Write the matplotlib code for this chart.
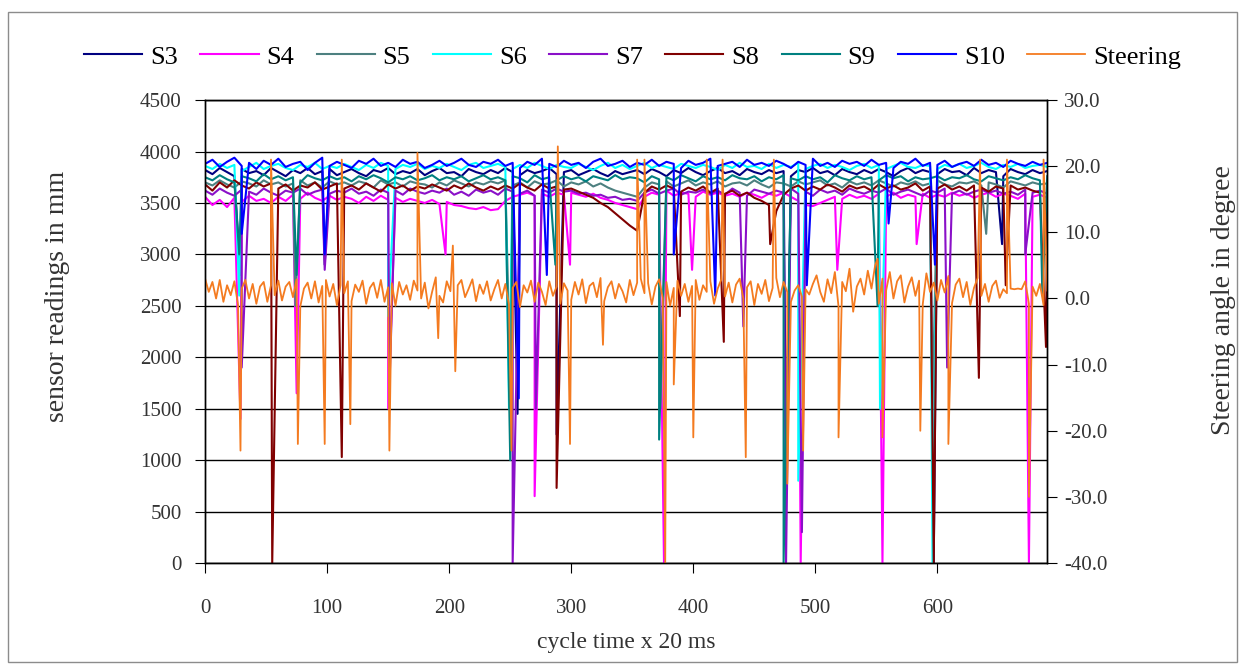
import numpy as np
import matplotlib
matplotlib.use("Agg")
from matplotlib import pyplot as plt
from matplotlib.patches import Rectangle

plt.rcParams["font.family"] = ["Liberation Serif", "DejaVu Serif"]

# sensor baselines, one value every 6 cycles (0..690)
s3_base = [3820, 3780, 3840, 3800, 3760, 3830, 3790, 3810, 3770, 3840,
           3800, 3760, 3820, 3790, 3840, 3780, 3810, 3830, 3770, 3800,
           3830, 3790, 3760, 3820, 3800, 3840, 3780, 3810, 3790, 3830,
           3770, 3810, 3840, 3790, 3800, 3760, 3830, 3800, 3780, 3820,
           3790, 3840, 3800, 3770, 3820, 3790, 3810, 3840, 3780, 3800,
           3820, 3770, 3800, 3830, 3790, 3760, 3810, 3780, 3800, 3820,
           3780, 3830, 3800, 3760, 3820, 3790, 3840, 3800, 3770, 3810,
           3840, 3790, 3810, 3770, 3830, 3800, 3780, 3820, 3790, 3810,
           3760, 3820, 3800, 3840, 3790, 3810, 3770, 3830, 3800, 3780,
           3820, 3790, 3830, 3800, 3760, 3810, 3840, 3790, 3820, 3800,
           3780, 3830, 3800, 3810, 3770, 3840, 3790, 3820, 3800, 3760,
           3830, 3800, 3780, 3820, 3790, 3810]
s4_base = [3560, 3480, 3530, 3460, 3550, 3510, 3570, 3520, 3540, 3500,
           3560, 3520, 3580, 3540, 3600, 3550, 3520, 3570, 3530, 3560,
           3540, 3500, 3560, 3520, 3570, 3530, 3550, 3510, 3540, 3520,
           3500, 3530, 3490, 3510, 3480, 3470, 3450, 3440, 3460, 3430,
           3440, 3520, 3560, 3580, 3600, 3570, 3590, 3560, 3600, 3580,
           3600, 3580, 3560, 3590, 3550, 3530, 3500, 3480, 3460, 3440,
           3560, 3600, 3580, 3620, 3570, 3600, 3590, 3560, 3610, 3580,
           3600, 3570, 3590, 3560, 3600, 3580, 3550, 3590, 3570, 3600,
           3560, 3520, 3480, 3470, 3500, 3530, 3560, 3540, 3580, 3550,
           3570, 3540, 3590, 3560, 3600, 3550, 3580, 3560, 3590, 3550,
           3580, 3560, 3600, 3570, 3590, 3550, 3580, 3600, 3560, 3590,
           3570, 3540, 3590, 3560, 3580, 3550]
s5_base = [3700, 3670, 3720, 3680, 3650, 3710, 3690, 3660, 3720, 3680,
           3700, 3660, 3690, 3720, 3670, 3700, 3650, 3710, 3680, 3700,
           3670, 3710, 3690, 3650, 3720, 3680, 3700, 3660, 3710, 3690,
           3680, 3650, 3700, 3670, 3720, 3690, 3660, 3700, 3680, 3710,
           3690, 3720, 3670, 3700, 3650, 3710, 3680, 3690, 3720, 3660,
           3700, 3680, 3710, 3660, 3690, 3650, 3620, 3600, 3580, 3560,
           3650, 3700, 3680, 3710, 3660, 3690, 3720, 3670, 3700, 3680,
           3710, 3660, 3690, 3700, 3670, 3720, 3680, 3650, 3700, 3690,
           3660, 3710, 3680, 3700, 3720, 3670, 3690, 3650, 3710, 3680,
           3700, 3670, 3720, 3690, 3660, 3700, 3680, 3710, 3670, 3690,
           3720, 3680, 3660, 3700, 3690, 3710, 3670, 3700, 3680, 3650,
           3710, 3690, 3670, 3700, 3680, 3690]
s6_base = [3860, 3830, 3880, 3840, 3870, 3810, 3850, 3890, 3830, 3860,
           3880, 3840, 3820, 3870, 3850, 3890, 3830, 3860, 3840, 3880,
           3850, 3820, 3870, 3840, 3890, 3860, 3830, 3870, 3850, 3880,
           3830, 3860, 3840, 3880, 3850, 3820, 3870, 3890, 3840, 3860,
           3880, 3850, 3830, 3870, 3840, 3890, 3860, 3830, 3870, 3850,
           3840, 3880, 3850, 3820, 3860, 3890, 3840, 3870, 3830, 3860,
           3890, 3840, 3870, 3850, 3830, 3880, 3860, 3840, 3870, 3850,
           3820, 3870, 3840, 3890, 3850, 3860, 3830, 3880, 3840, 3870,
           3850, 3890, 3830, 3860, 3880, 3840, 3870, 3850, 3820, 3860,
           3880, 3840, 3870, 3830, 3860, 3890, 3850, 3840, 3870, 3860,
           3830, 3870, 3850, 3880, 3840, 3860, 3890, 3850, 3830, 3870,
           3850, 3880, 3840, 3860, 3870, 3850]
s7_base = [3620, 3580, 3640, 3600, 3570, 3630, 3610, 3580, 3640, 3600,
           3570, 3620, 3600, 3640, 3580, 3610, 3630, 3590, 3620, 3600,
           3640, 3590, 3610, 3570, 3630, 3600, 3620, 3580, 3640, 3610,
           3590, 3620, 3600, 3640, 3580, 3610, 3570, 3630, 3600, 3620,
           3580, 3640, 3610, 3590, 3620, 3570, 3630, 3600, 3640, 3610,
           3620, 3590, 3600, 3570, 3580, 3550, 3560, 3530, 3540, 3520,
           3600, 3630, 3590, 3620, 3640, 3580, 3610, 3600, 3630, 3590,
           3620, 3580, 3640, 3600, 3570, 3630, 3610, 3590, 3620, 3600,
           3640, 3590, 3610, 3570, 3630, 3600, 3620, 3580, 3640, 3610,
           3590, 3620, 3600, 3640, 3580, 3610, 3630, 3600, 3570, 3620,
           3600, 3640, 3590, 3620, 3580, 3610, 3630, 3600, 3620, 3590,
           3610, 3580, 3630, 3600, 3620, 3590]
s8_base = [3680, 3620, 3700, 3650, 3720, 3670, 3640, 3700, 3660, 3690,
           3640, 3680, 3620, 3670, 3650, 3700, 3630, 3660, 3690, 3640,
           3670, 3630, 3690, 3650, 3610, 3680, 3640, 3670, 3620, 3660,
           3640, 3680, 3650, 3620, 3670, 3640, 3690, 3650, 3620, 3660,
           3630, 3670, 3640, 3690, 3650, 3620, 3680, 3640, 3660, 3630,
           3640, 3610, 3580, 3550, 3500, 3460, 3400, 3340, 3280, 3230,
           3600, 3660, 3630, 3670, 3640, 3610, 3650, 3620, 3660, 3600,
           3640, 3590, 3620, 3570, 3600, 3550, 3520, 3480, 3420, 3580,
           3640, 3670, 3620, 3660, 3630, 3680, 3650, 3610, 3670, 3640,
           3660, 3620, 3680, 3640, 3670, 3630, 3650, 3690, 3620, 3660,
           3640, 3680, 3630, 3660, 3620, 3670, 3650, 3610, 3660, 3640,
           3670, 3630, 3650, 3620, 3600, 3560]
s9_base = [3750, 3720, 3770, 3730, 3700, 3760, 3740, 3710, 3780, 3730,
           3760, 3720, 3750, 3700, 3770, 3740, 3720, 3760, 3730, 3750,
           3710, 3760, 3730, 3770, 3740, 3700, 3750, 3730, 3760, 3720,
           3740, 3770, 3720, 3750, 3730, 3760, 3710, 3740, 3770, 3730,
           3750, 3720, 3760, 3740, 3700, 3770, 3730, 3750, 3720, 3760,
           3730, 3750, 3710, 3760, 3740, 3720, 3770, 3730, 3750, 3740,
           3700, 3760, 3730, 3750, 3720, 3770, 3740, 3710, 3760, 3730,
           3750, 3720, 3770, 3740, 3730, 3760, 3710, 3750, 3730, 3770,
           3740, 3720, 3760, 3730, 3750, 3700, 3770, 3740, 3720, 3760,
           3730, 3750, 3720, 3770, 3740, 3760, 3710, 3750, 3730, 3740,
           3760, 3720, 3750, 3740, 3770, 3730, 3710, 3760, 3740, 3720,
           3750, 3730, 3770, 3740, 3720, 3760]
s10_base = [3880, 3920, 3850, 3900, 3940, 3860, 3890, 3830, 3910, 3870,
            3930, 3850, 3880, 3900, 3820, 3890, 3940, 3860, 3900, 3870,
            3840, 3910, 3880, 3930, 3860, 3890, 3850, 3920, 3880, 3900,
            3840, 3870, 3910, 3860, 3890, 3930, 3870, 3850, 3900, 3880,
            3920, 3860, 3890, 3840, 3900, 3870, 3930, 3880, 3850, 3910,
            3870, 3890, 3840, 3900, 3930, 3860, 3880, 3910, 3850, 3890,
            3870, 3920, 3860, 3900, 3880, 3840, 3910, 3870, 3890, 3930,
            3860, 3880, 3900, 3850, 3920, 3870, 3890, 3860, 3910, 3880,
            3840, 3900, 3870, 3930, 3860, 3890, 3850, 3910, 3880, 3900,
            3860, 3920, 3870, 3890, 3840, 3900, 3880, 3930, 3860, 3890,
            3870, 3910, 3850, 3880, 3900, 3860, 3920, 3870, 3890, 3850,
            3910, 3880, 3860, 3900, 3870, 3890]

# sharp dips (cycle, reading in mm)
s3_dip_x = [29, 98, 256, 288, 476, 597, 653]
s3_dip_y = [2800, 2900, 1450, 1250, 1000, 0, 3100]
s4_dip_x = [29, 75, 150, 197, 270, 299, 376, 399, 488, 518, 555, 583, 675]
s4_dip_y = [1400, 1650, 1500, 3000, 650, 2900, 0, 2850, 0, 2850, 0, 3100, 0]
s5_dip_x = [74, 250, 373, 596, 640]
s5_dip_y = [2500, 1800, 1500, 1500, 3200]
s6_dip_x = [28, 150, 249, 486, 553, 596]
s6_dip_y = [2600, 2400, 1500, 800, 1500, 0]
s7_dip_x = [30, 98, 151, 252, 271, 441, 476, 489, 608, 672]
s7_dip_y = [1900, 2850, 1700, 0, 1500, 2300, 0, 300, 1900, 3000]
s8_dip_x = [55, 112, 288, 389, 425, 463, 597, 634, 656, 689]
s8_dip_y = [0, 1030, 730, 2400, 2150, 3100, 0, 1800, 2700, 2100]
s9_dip_x = [28, 75, 250, 287, 372, 474, 551, 686]
s9_dip_y = [3000, 2800, 1000, 2900, 1200, 0, 2500, 2600]
s10_dip_x = [30, 98, 257, 280, 384, 418, 493, 560, 598]
s10_dip_y = [3200, 3000, 1600, 2800, 3000, 2600, 2700, 3300, 2900]

# steering angle, one value every 3 cycles (0..690)
steer_base = [3.0, 1.0, 2.5, 0.0, 2.8, -0.5, 2.0, 0.5, 2.6, -1.0, 1.5, 2.8, 0.0, 2.2, -0.8, 1.8, 2.5, -0.5, 2.0, 0.5,
              2.7, -0.3, 1.8, 2.5, 0.2, 2.9, -1.2, 1.5, 2.4, 0.0, 2.6, -0.6, 1.9, 2.8, 0.3, 2.2, -1.0, 2.0, 0.8, 2.6,
              -0.4, 2.1, 1.0, 2.7, -0.8, 1.6, 2.4, 0.1, 2.8, -0.5, 1.7, 2.3, -1.1, 2.5, 0.6, 2.0, -0.2, 2.7, 1.2, 0.0,
              2.4, -1.5, 1.0, 3.2, 0.4, -0.6, 2.6, 1.1, -1.2, 2.0, 2.8, 0.2, 1.5, 2.9, -0.4, 2.1, 0.7, 2.6, -0.3, 1.4,
              2.8, 0.0, 2.2, -0.9, 1.6, 2.5, -1.3, 2.0, 0.9, 2.7, -0.5, 2.4, 1.0, -1.0, 2.6, 0.4, 1.8, -0.8, 2.3, 1.2,
              -0.2, 2.5, 0.6, 2.9, -0.7, 1.9, 2.4, 0.2, 3.1, -0.4, 1.7, 2.6, 0.0, 2.2, 1.1, -0.6, 2.8, 0.5, 2.4, 3.0,
              0.8, 2.3, -0.9, 1.8, 2.9, 0.1, 2.5, -1.1, 1.6, 2.7, 0.4, 2.2, -0.5, 1.9, 2.8, -0.2, 2.0, 1.0, 2.6, -0.8,
              1.5, 2.9, 0.3, 2.4, -0.6, 2.1, 3.0, 0.0, 1.7, 2.6, -1.0, 2.2, 0.7, 2.8, -0.4, 1.6, 3.1, 0.2, 2.5, 1.0,
              -0.5, 1.2, 2.0, 0.3, 1.4, 0.6, 2.2, 3.5, 1.0, -0.5, 2.9, 0.8, 4.0, -1.2, 2.5, 1.1, 4.5, -2.0, 1.8, 3.0,
              0.6, 4.2, 1.5, 5.0, -0.8, 3.0, 1.2, 4.0, 0.0, 2.6, 3.5, -0.6, 1.8, 3.2, 0.4, 2.7, -0.9, 3.8, 1.0, 2.4,
              -0.3, 2.8, 0.9, 3.4, -0.7, 2.1, 3.0, 0.2, 2.5, -1.0, 1.6, 3.1, 0.4, 2.2, -0.5, 1.9, 2.7, 0.1, 1.4, 0.8,
              1.5, 1.4, 1.5, 1.4, 2.6, -0.8, 1.8, 0.4, 2.2, -1.0, 1.2]
steer_ev_x = [29, 54, 76, 98, 112, 119, 151, 174, 191, 203, 205, 251, 289, 299, 326, 354, 360,
              377, 384, 400, 411, 424, 443, 466, 477, 490, 519, 551, 555, 586, 609, 635, 657, 675, 687]
steer_ev_y = [-23, 21, -22, -22, 21, -19, -23, 22, -6, 8, -11, -23, 23, -22, -7, 21, 21,
              -40, -13, -21, 21, 21, -24, 21, -28, -23, -21, 6, -21, -20, -22, 21, 21, -30, 21]

names = ["S3", "S4", "S5", "S6", "S7", "S8", "S9", "S10"]
bases = [s3_base, s4_base, s5_base, s6_base, s7_base, s8_base, s9_base, s10_base]
dips_x = [s3_dip_x, s4_dip_x, s5_dip_x, s6_dip_x, s7_dip_x, s8_dip_x, s9_dip_x, s10_dip_x]
dips_y = [s3_dip_y, s4_dip_y, s5_dip_y, s6_dip_y, s7_dip_y, s8_dip_y, s9_dip_y, s10_dip_y]
colors = ["#000080", "#FF00FF", "#4D8080", "#00FFFF", "#8A10C8", "#800000", "#008080", "#0000FF"]
steer_color = "#F47B20"


def merge(bx, by, ex, ey):
    x = np.concatenate([bx, ex])
    y = np.concatenate([by, ey])
    order = np.argsort(x, kind="stable")
    return x[order], y[order]


fig = plt.figure(figsize=(12.43, 6.69), dpi=100)
fig.patches.append(Rectangle((8 / 1243, 1 - 662 / 669), 1229 / 1243, 650 / 669,
                             transform=fig.transFigure, fill=False, edgecolor="#8c8c8c", lw=1.0))
ax = fig.add_axes([0.165, 0.1584, 0.6775, 0.692])
ax2 = ax.twinx()

handles = []
for name, b, ex, ey, c in zip(names, bases, dips_x, dips_y, colors):
    bx = np.arange(len(b)) * 6
    x, y = merge(bx, np.array(b, float), np.array(ex, float), np.array(ey, float))
    h, = ax.plot(x, y, color=c, lw=1.5, label=name)
    handles.append(h)

sx = np.arange(len(steer_base)) * 3
x, y = merge(sx, np.array(steer_base), np.array(steer_ev_x, float), np.array(steer_ev_y, float))
h, = ax2.plot(x, y, color=steer_color, lw=1.3, label="Steering")
handles.append(h)

ax.set_xlim(0, 690)
ax.set_ylim(0, 4500)
ax.set_yticks(np.arange(0, 4501, 500))
ax.set_xticks(np.arange(0, 601, 100))
ax2.set_ylim(-40, 30)
ax2.set_yticks(np.arange(-40, 31, 10))
ax2.set_yticklabels(["%.1f" % v for v in np.arange(-40, 31, 10)])

ax.grid(axis="y", color="black", lw=1.0)
ax.set_axisbelow(True)
for a in (ax, ax2):
    for s in a.spines.values():
        s.set_color("black")
        s.set_linewidth(1.0)
ax.tick_params(axis="x", direction="out", length=7, pad=19, labelsize=15, colors="black", labelcolor="#333333")
ax.tick_params(axis="y", direction="out", length=7, pad=10, labelsize=15, labelcolor="#333333")
ax2.tick_params(axis="y", direction="out", length=7, pad=5, labelsize=15, labelcolor="#333333")

ax.set_xlabel("cycle time x 20 ms", fontsize=17, color="#333333")
ax.xaxis.set_label_coords(0.5, -0.15)
ax.set_ylabel("sensor readings in mm", fontsize=20, color="#333333")
ax.yaxis.set_label_coords(-0.160, 0.577)
ax2.set_ylabel("Steering angle in degree", fontsize=20, color="#333333")
ax2.yaxis.set_label_coords(1.194, 0.568)

fig.legend(handles=handles, loc="center", bbox_to_anchor=(0.509, 0.915), ncol=9, frameon=False,
           fontsize=19, handlelength=2.2, columnspacing=0.85, handletextpad=0.3)

fig.savefig("out.png", dpi=100)
